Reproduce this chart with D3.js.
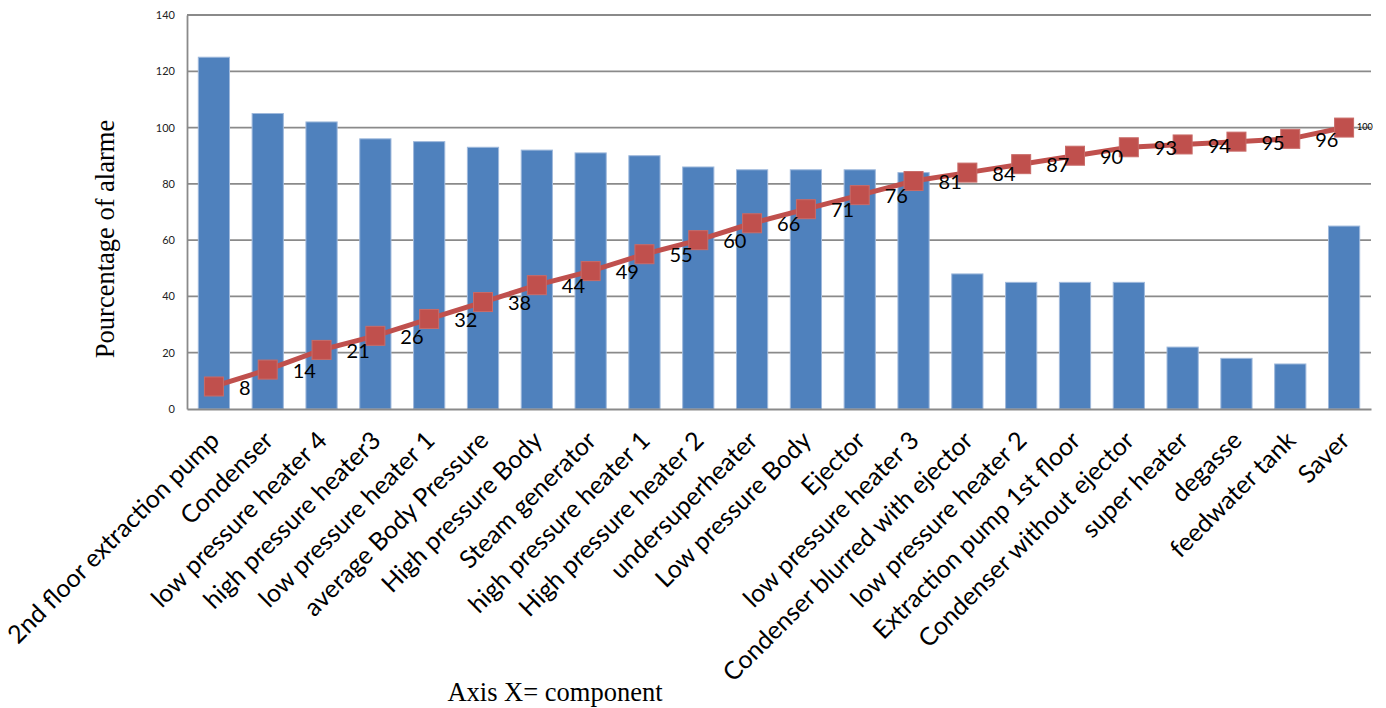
<!DOCTYPE html>
<html>
<head>
<meta charset="utf-8">
<style>
  body { margin: 0; background: #fff; }
  svg text { font-family: Lato, "Open Sans", sans-serif; }
</style>
</head>
<body>
<div id="chart"></div>
<script src="https://d3js.org/d3.v7.min.js"></script>
<script>
// categories (components)
const components = ["2nd floor extraction pump", "Condenser", "low pressure heater 4", "high pressure heater3",
  "low pressure heater 1", "average Body Pressure", "High pressure Body", "Steam generator",
  "high pressure heater 1", "High pressure heater 2", "undersuperheater", "Low pressure Body",
  "Ejector", "low pressure heater 3", "Condenser blurred with ejector", "low pressure heater 2",
  "Extraction pump 1st floor", "Condenser without ejector", "super heater", "degasse",
  "feedwater tank", "Saver"];
// alarms per component (bars)
const alarms = [125, 105, 102, 96, 95, 93, 92, 91, 90, 86, 85, 85, 85, 84, 48, 45, 45, 45, 22, 18, 16, 65];
// cumulative percentage (line)
const cumulative = [8, 14, 21, 26, 32, 38, 44, 49, 55, 60, 66, 71, 76, 81, 84, 87, 90, 93, 94, 95, 96, 100];
const yTicks = [0, 20, 40, 60, 80, 100, 120, 140];

const width = 1386, height = 708;
const plotLeft = 187, plotRight = 1371, plotTop = 15, plotBottom = 409;

const svg = d3.select("#chart").append("svg")
  .attr("width", width).attr("height", height);

const x = d3.scaleBand().domain(components).range([plotLeft, plotRight]).paddingInner(0.42).paddingOuter(0.21);
const y = d3.scaleLinear().domain([0, 140]).range([plotBottom, plotTop]);

// gridlines
svg.append("g").selectAll("line")
  .data(yTicks.filter(d => d > 0))
  .join("line")
  .attr("x1", plotLeft).attr("x2", plotRight)
  .attr("y1", d => y(d)).attr("y2", d => y(d))
  .attr("stroke", "#8a8a8a").attr("stroke-width", 1.8);

// y axis
const yAxis = svg.append("g")
  .attr("transform", `translate(${plotLeft},0)`)
  .call(d3.axisLeft(y).tickValues(yTicks).tickSize(0).tickPadding(12));
yAxis.select(".domain").attr("stroke", "#8a8a8a").attr("stroke-width", 1.8);
yAxis.selectAll("text").attr("font-size", 11).attr("fill", "#222")
  .style("font-family", "Lato, sans-serif");

// bars
svg.append("g").selectAll("rect")
  .data(alarms)
  .join("rect")
  .attr("x", (d, i) => x(components[i]))
  .attr("width", x.bandwidth())
  .attr("y", d => y(d))
  .attr("height", d => y(0) - y(d))
  .attr("fill", "#4F81BD")
  .attr("stroke", "#9fb9dc").attr("stroke-width", 1);

// x axis
const xAxis = svg.append("g")
  .attr("transform", `translate(0,${plotBottom})`)
  .call(d3.axisBottom(x).tickSize(0).tickPadding(0));
xAxis.select(".domain").attr("stroke", "#8a8a8a").attr("stroke-width", 1.8);
xAxis.selectAll("text")
  .attr("font-size", 25).attr("fill", "#000")
  .attr("text-anchor", "end")
  .attr("dy", "0")
  .attr("transform", "translate(7,33) rotate(-45)");

// cumulative line
const cx = i => x(components[i]) + x.bandwidth() / 2;
const line = d3.line().x((d, i) => cx(i)).y(d => y(d));
svg.append("path")
  .datum(cumulative)
  .attr("d", line)
  .attr("fill", "none")
  .attr("stroke", "#C0504D")
  .attr("stroke-width", 5);

const ms = 19;
svg.append("g").selectAll("rect")
  .data(cumulative)
  .join("rect")
  .attr("x", (d, i) => cx(i) - ms / 2)
  .attr("y", d => y(d) - ms / 2)
  .attr("width", ms).attr("height", ms)
  .attr("fill", "#C0504D")
  .attr("stroke", "#c96b68").attr("stroke-width", 1);

svg.append("g").selectAll("text")
  .data(cumulative)
  .join("text")
  .attr("x", (d, i) => cx(i) + (d === 100 ? 13 : 25))
  .attr("y", d => y(d) + (d === 100 ? 0 : 3))
  .attr("dominant-baseline", "middle")
  .attr("font-size", d => d === 100 ? 9 : 20)
  .attr("fill", "#000")
  .text(d => d);

// axis titles
svg.append("text")
  .attr("transform", `translate(114,239) rotate(-90)`)
  .attr("text-anchor", "middle")
  .style("font-family", "'Liberation Serif', 'Times New Roman', serif")
  .attr("font-size", 26.5)
  .text("Pourcentage of alarme");

svg.append("text")
  .attr("x", 555).attr("y", 701)
  .attr("text-anchor", "middle")
  .style("font-family", "'Liberation Serif', 'Times New Roman', serif")
  .attr("font-size", 26.5)
  .text("Axis X= component");
</script>
</body>
</html>
